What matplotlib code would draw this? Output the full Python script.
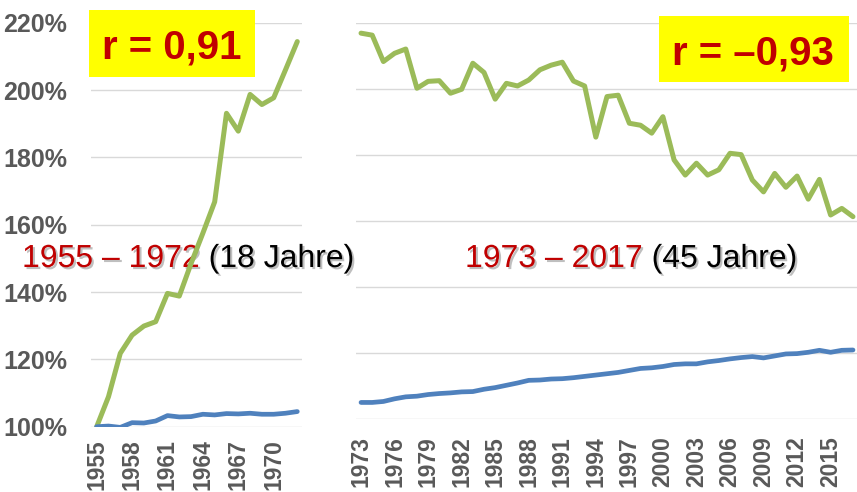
import matplotlib
matplotlib.use("Agg")
import matplotlib.pyplot as plt
import matplotlib.patheffects as pe
from matplotlib.patches import Rectangle
from matplotlib.ticker import FuncFormatter

# Left period 1955-1972 (index, 1955 = 100 %)
years_a = list(range(1955, 1973))
green_a = [100.0, 108.9, 121.8, 127.2, 129.9, 131.2, 139.6, 138.8, 148.5, 157.5,
           166.8, 193.1, 187.8, 198.7, 195.7, 197.7, 206.0, 214.4]
blue_a = [100.0, 100.2, 99.8, 101.2, 101.1, 101.7, 103.3, 102.9, 103.0, 103.7,
          103.5, 103.9, 103.8, 104.0, 103.7, 103.7, 104.0, 104.5]

# Right period 1973-2017
years_b = list(range(1973, 2018))
green_b = [217.0, 216.4, 208.4, 210.9, 212.2, 200.3, 202.4, 202.6, 198.8, 200.0,
           207.9, 205.1, 197.0, 201.8, 201.0, 202.8, 205.9, 207.3, 208.2, 202.5,
           201.0, 185.5, 197.8, 198.2, 189.7, 189.1, 186.7, 191.7, 178.6, 174.0,
           177.6, 174.0, 175.6, 180.6, 180.2, 172.5, 168.9, 174.5, 170.3, 173.7,
           166.7, 172.7, 161.9, 163.9, 161.4]
blue_b = [105.1, 105.1, 105.4, 106.2, 106.8, 107.0, 107.5, 107.8, 108.0, 108.3,
          108.4, 109.1, 109.6, 110.3, 111.0, 111.8, 111.9, 112.2, 112.3, 112.6,
          113.0, 113.4, 113.8, 114.2, 114.8, 115.4, 115.6, 116.0, 116.6, 116.8,
          116.8, 117.4, 117.8, 118.3, 118.7, 119.0, 118.6, 119.2, 119.8, 119.9,
          120.3, 120.9, 120.3, 120.9, 121.0]

y_ticks = [100, 120, 140, 160, 180, 200, 220]
ticks_a = list(range(1955, 1972, 3))
ticks_b = list(range(1973, 2017, 3))

GREEN = "#9BBB59"
BLUE = "#4F81BD"
RED = "#C00000"
GRID = "#D9D9D9"
TICK = "#595959"
NARROW = ["Liberation Sans Narrow", "Liberation Sans"]

plt.rcParams["font.family"] = ["Liberation Sans", "DejaVu Sans"]

fig = plt.figure(figsize=(8.57, 4.92), dpi=100)
ax1 = fig.add_axes([0.1062, 0.1327, 0.2462, 0.8211])
ax2 = fig.add_axes([0.4154, 0.1478, 0.5846, 0.8049])

for ax, yrs, g, b, ticks in [(ax1, years_a, green_a, blue_a, ticks_a),
                             (ax2, years_b, green_b, blue_b, ticks_b)]:
    ax.set_facecolor("none")
    ax.plot(yrs, g, color=GREEN, linewidth=3.6, solid_capstyle="round", zorder=3)
    ax.plot(yrs, b, color=BLUE, linewidth=3.4, solid_capstyle="round", zorder=3)
    ax.set_ylim(100, 220)
    ax.set_yticks(y_ticks)
    ax.yaxis.grid(True, color=GRID, linewidth=1.0, zorder=0)
    ax.set_axisbelow(True)
    for s in ax.spines.values():
        s.set_visible(False)
    ax.set_xticks(ticks)
    ax.set_xticklabels([str(t) for t in ticks], rotation=90, color=TICK,
                       fontsize=16.5, fontweight="bold", family=NARROW)
    ax.tick_params(axis="both", length=0)

ax1.tick_params(axis="x", pad=9)
ax2.tick_params(axis="x", pad=12)
ax1.set_xlim(1954.52, 1972.4)
ax2.set_xlim(1972.55, 2017.36)

ax1.yaxis.set_major_formatter(FuncFormatter(lambda v, p: f"{v:.0f}%"))
ax1.tick_params(axis="y", pad=17)
for lbl in ax1.get_yticklabels():
    lbl.set_color(TICK)
    lbl.set_fontsize(18)
    lbl.set_fontweight("bold")
    lbl.set_family(NARROW)
ax2.set_yticklabels([])

# yellow correlation boxes
fig.patches.append(Rectangle((0.1039, 0.8435), 0.1937, 0.1362, facecolor="#FFFF00",
                             edgecolor="none", transform=fig.transFigure, zorder=2))
fig.patches.append(Rectangle((0.769, 0.8333), 0.2217, 0.1341, facecolor="#FFFF00",
                             edgecolor="none", transform=fig.transFigure, zorder=2))
fig.text(0.2007, 0.8815, "r = 0,91", ha="center", va="baseline", color=RED,
         fontsize=29, fontweight="bold", zorder=3)
fig.text(0.878, 0.8699, "r = \u20130,93", ha="center", va="baseline", color=RED,
         fontsize=29, fontweight="bold", zorder=3)

# period labels (red years + black duration), with a soft shadow
shadow = [pe.SimplePatchShadow(offset=(1.5, -1.5), shadow_rgbFace="#808080", alpha=0.5),
          pe.Normal()]


def period_label(ax, x, y, years, rest):
    t1 = ax.text(x, y, years, transform=fig.transFigure, color=RED, fontsize=23,
                 ha="left", va="baseline", zorder=1, clip_on=False, path_effects=shadow)
    ax.annotate(" " + rest, xy=(1, 0), xycoords=t1, va="bottom", ha="left",
                color="black", fontsize=23, zorder=1, annotation_clip=False,
                path_effects=shadow)


period_label(ax1, 0.0257, 0.4573, "1955 \u2013 1972", "(18 Jahre)")
period_label(ax2, 0.5426, 0.4573, "1973 \u2013 2017", "(45 Jahre)")

fig.savefig("out.png", dpi=100)
